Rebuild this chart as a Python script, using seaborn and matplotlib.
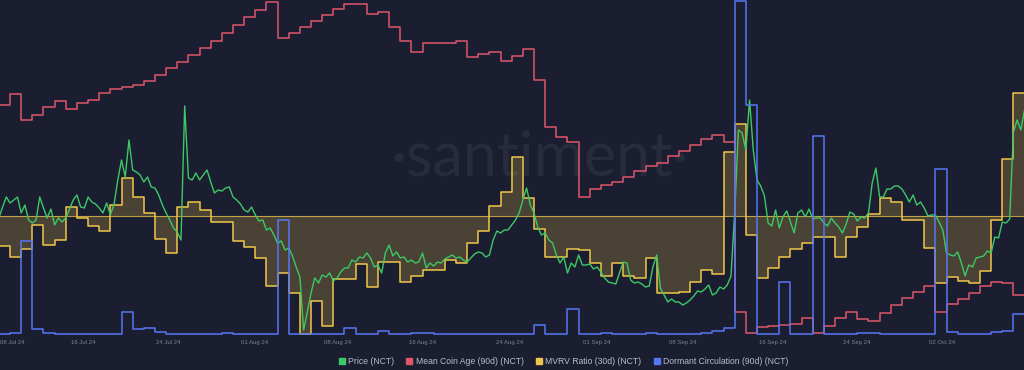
import numpy as np
import pandas as pd
import matplotlib
matplotlib.use("Agg")
import matplotlib.pyplot as plt
from matplotlib.lines import Line2D
import seaborn as sns

# --- Santiment NCT chart, 08 Jul 24 -> 06 Oct 24 ---
# daily metrics (one value per day)
mean_coin_age = [
    39.5, 40.6, 38.0, 38.5, 39.3, 39.9, 39.1, 39.7, 40.0, 40.7,
    41.1, 41.3, 41.5, 41.9, 42.5, 43.2, 43.8, 44.5, 45.2, 45.9,
    46.7, 47.5, 48.3, 49.0, 49.8, 46.2, 46.7, 47.3, 47.9, 48.5,
    49.1, 49.6, 49.6, 48.6, 48.8, 47.3, 45.9, 44.8, 45.7, 45.7,
    45.7, 45.9, 44.3, 44.6, 44.8, 43.9, 44.4, 45.1, 42.0, 37.3,
    36.3, 35.8, 30.3, 31.1, 31.5, 31.8, 32.3, 32.9, 33.4, 33.7,
    34.4, 34.9, 35.5, 36.1, 36.5, 35.8, 18.8, 16.7, 17.3, 17.4,
    17.5, 17.6, 18.2, 16.7, 17.4, 18.2, 18.8, 18.1, 17.9, 18.7,
    19.5, 20.2, 20.8, 21.4, 18.8, 19.6, 20.1, 20.7, 21.4, 21.8,
    21.7, 20.5,
]  # days

mvrv_30d = [
    -6.0, -8.2, -6.6, -1.8, -5.8, -4.8, 1.8, -0.4, -2.0, -3.0,
    2.2, 7.6, 3.8, 0.6, -4.6, -7.4, 1.8, 2.8, 1.2, -1.2,
    -1.2, -5.0, -6.2, -8.4, -14.0, -11.4, -15.4, -23.6, -17.0, -22.0,
    -12.6, -12.6, -9.6, -14.2, -9.2, -9.2, -13.2, -12.0, -10.8, -10.8,
    -8.8, -9.4, -5.4, -3.0, 2.0, 4.8, 11.8, 3.6, -2.6, -8.2,
    -8.2, -6.6, -6.8, -9.4, -12.0, -9.4, -12.0, -12.4, -8.4, -15.4,
    -15.4, -15.2, -13.2, -10.8, -11.6, 12.8, 18.4, -3.8, -12.4, -10.4,
    -8.2, -6.6, -5.4, -4.2, -4.2, -8.2, -4.2, -2.2, 0.4, 3.6,
    2.8, -0.8, -0.8, -6.4, -13.4, -12.2, -13.0, -13.4, -11.0, -0.8,
    11.4, 24.6,
]  # % (ratio - 1)

dormant_circ = [
    0, 1000, 93000, 5000, 1000, 0, 0, 0, 0, 0,
    0, 22000, 5000, 6000, 2000, 0, 0, 0, 0, 0,
    1000, 0, 0, 0, 0, 114000, 0, 0, 0, 0,
    0, 6000, 0, 0, 3000, 0, 0, 1000, 1000, 0,
    0, 0, 0, 0, 0, 0, 0, 0, 9000, 0,
    0, 25000, 0, 0, 1000, 0, 0, 0, 1000, 0,
    0, 0, 0, 1000, 3000, 6000, 333000, 229000, 0, 0,
    52000, 0, 0, 198000, 0, 0, 0, 1000, 1000, 0,
    0, 0, 0, 0, 165000, 2000, 0, 0, 0, 2000,
    3000, 20000,
]  # NCT

# price, one value every 8 hours
price_usd = [
    0.0182, 0.0193, 0.0203, 0.0197, 0.0200, 0.0203, 0.0187, 0.0195, 0.0180, 0.0177,
    0.0180, 0.0203, 0.0192, 0.0182, 0.0191, 0.0175, 0.0182, 0.0178, 0.0182, 0.0191,
    0.0200, 0.0205, 0.0193, 0.0192, 0.0203, 0.0198, 0.0196, 0.0192, 0.0187, 0.0197,
    0.0185, 0.0196, 0.0220, 0.0240, 0.0223, 0.0260, 0.0230, 0.0228, 0.0225, 0.0218,
    0.0223, 0.0213, 0.0212, 0.0205, 0.0195, 0.0187, 0.0180, 0.0172, 0.0168, 0.0160,
    0.0294, 0.0222, 0.0220, 0.0227, 0.0220, 0.0225, 0.0230, 0.0218, 0.0207, 0.0210,
    0.0209, 0.0212, 0.0213, 0.0203, 0.0200, 0.0196, 0.0190, 0.0188, 0.0193, 0.0185,
    0.0179, 0.0180, 0.0170, 0.0172, 0.0165, 0.0157, 0.0159, 0.0150, 0.0152, 0.0144,
    0.0133, 0.0123, 0.0070, 0.0088, 0.0107, 0.0122, 0.0117, 0.0125, 0.0123, 0.0127,
    0.0119, 0.0122, 0.0128, 0.0132, 0.0132, 0.0140, 0.0138, 0.0143, 0.0142, 0.0147,
    0.0142, 0.0133, 0.0135, 0.0127, 0.0147, 0.0155, 0.0144, 0.0148, 0.0142, 0.0143,
    0.0138, 0.0140, 0.0137, 0.0138, 0.0147, 0.0132, 0.0137, 0.0134, 0.0138, 0.0137,
    0.0141, 0.0143, 0.0145, 0.0142, 0.0143, 0.0140, 0.0138, 0.0142, 0.0146, 0.0148,
    0.0147, 0.0143, 0.0145, 0.0160, 0.0169, 0.0167, 0.0170, 0.0170, 0.0175, 0.0180,
    0.0187, 0.0200, 0.0212, 0.0195, 0.0187, 0.0173, 0.0165, 0.0167, 0.0160, 0.0157,
    0.0145, 0.0137, 0.0143, 0.0127, 0.0137, 0.0133, 0.0145, 0.0135, 0.0135, 0.0136,
    0.0131, 0.0133, 0.0128, 0.0122, 0.0118, 0.0117, 0.0116, 0.0127, 0.0138, 0.0137,
    0.0120, 0.0117, 0.0118, 0.0116, 0.0113, 0.0114, 0.0133, 0.0145, 0.0112, 0.0105,
    0.0098, 0.0101, 0.0098, 0.0098, 0.0095, 0.0097, 0.0100, 0.0104, 0.0109, 0.0108,
    0.0111, 0.0115, 0.0105, 0.0107, 0.0113, 0.0111, 0.0115, 0.0124, 0.0187, 0.0270,
    0.0267, 0.0250, 0.0300, 0.0250, 0.0220, 0.0214, 0.0204, 0.0177, 0.0174, 0.0190,
    0.0172, 0.0183, 0.0189, 0.0178, 0.0167, 0.0187, 0.0190, 0.0183, 0.0191, 0.0181,
    0.0182, 0.0182, 0.0177, 0.0174, 0.0182, 0.0177, 0.0173, 0.0167, 0.0176, 0.0188,
    0.0186, 0.0179, 0.0183, 0.0182, 0.0187, 0.0217, 0.0232, 0.0203, 0.0203, 0.0211,
    0.0211, 0.0214, 0.0214, 0.0211, 0.0205, 0.0198, 0.0205, 0.0195, 0.0198, 0.0192,
    0.0184, 0.0185, 0.0185, 0.0178, 0.0170, 0.0147, 0.0145, 0.0144, 0.0148, 0.0137,
    0.0124, 0.0135, 0.0133, 0.0142, 0.0143, 0.0144, 0.0149, 0.0147, 0.0163, 0.0162,
    0.0178, 0.0177, 0.0181, 0.0268, 0.0280, 0.0270, 0.0290,
]

tick_days = [1.2, 7.55, 15.17, 22.97, 30.42, 38.04, 45.84, 53.65, 61.36, 69.43, 76.96, 84.59]
tick_labels = ["08 Jul 24", "16 Jul 24", "24 Jul 24", "01 Aug 24", "08 Aug 24", "16 Aug 24",
               "24 Aug 24", "01 Sep 24", "08 Sep 24", "16 Sep 24", "24 Sep 24", "02 Oct 24"]

series_names = ["Price (NCT)", "Mean Coin Age (90d) (NCT)",
                "MVRV Ratio (30d) (NCT)", "Dormant Circulation (90d) (NCT)"]

BG = "#1b1e30"
GREEN = "#3cc965"
RED = "#e0576a"
YELLOW = "#f0c64a"
BLUE = "#5577f2"


def step_frame(values, name):
    # repeat the last value so the final day gets drawn as a full step
    vals = list(values) + [values[-1]]
    return pd.DataFrame({"day": np.arange(len(vals)), name: vals})


def main():
    plt.rcParams["font.family"] = ["Liberation Sans", "DejaVu Sans"]

    daily_mvrv = step_frame(mvrv_30d, "mvrv")
    daily_age = step_frame(mean_coin_age, "age")
    daily_dorm = step_frame(dormant_circ, "dorm")
    price = pd.DataFrame({"t": np.arange(len(price_usd)) / 3.0, "price": price_usd})

    fig = plt.figure(figsize=(10.24, 3.70), dpi=100, facecolor=BG)
    ax = fig.add_axes([0, 33 / 370, 1, 337 / 370])
    ax.set_facecolor(BG)

    # watermark
    ax.text(0.527, 0.53, "\u00b7santiment\u00b7", transform=ax.transAxes, ha="center", va="center",
            fontsize=44, color="white", alpha=0.06, family=["Lato", "DejaVu Sans"], zorder=0)

    # MVRV with filled area against zero
    ax.fill_between(daily_mvrv["day"], daily_mvrv["mvrv"], 0, step="post",
                    color=YELLOW, alpha=0.22, linewidth=0)
    ax.axhline(0, color=YELLOW, lw=0.8, alpha=0.75)
    sns.lineplot(data=daily_mvrv, x="day", y="mvrv", ax=ax, color=YELLOW, lw=1.1,
                 drawstyle="steps-post", errorbar=None)
    ax.set_ylim(-24.2, 43.2)

    ax_age = ax.twinx()
    sns.lineplot(data=daily_age, x="day", y="age", ax=ax_age, color=RED, lw=1.1,
                 drawstyle="steps-post", errorbar=None)
    ax_age.set_ylim(16.3, 50.0)

    ax_price = ax.twinx()
    sns.lineplot(data=price, x="t", y="price", ax=ax_price, color=GREEN, lw=1.0, errorbar=None)
    ax_price.set_ylim(0.0063, 0.0400)

    ax_dorm = ax.twinx()
    sns.lineplot(data=daily_dorm, x="day", y="dorm", ax=ax_dorm, color=BLUE, lw=1.1,
                 drawstyle="steps-post", errorbar=None)
    ax_dorm.set_ylim(-3000, 334000)

    for a in (ax, ax_age, ax_price, ax_dorm):
        a.set_xlim(0.1, 91.95)
        a.set_ylabel("")
        a.set_xlabel("")
        a.set_yticks([])
        for s in a.spines.values():
            s.set_visible(False)

    ax.set_xticks(tick_days, labels=tick_labels)
    ax.tick_params(axis="x", length=0, pad=2, labelsize=4.3, labelcolor="#7d8196")
    ax.grid(False)

    handles = [Line2D([], [], marker="s", ls="none", color=c, markersize=4.2)
               for c in (GREEN, RED, YELLOW, BLUE)]
    fig.legend(handles, series_names, loc="center", bbox_to_anchor=(0.5503, 0.022), ncol=4,
               frameon=False, fontsize=6.2, labelcolor="#b9bccb", handlelength=0.7,
               handletextpad=0.4, columnspacing=1.4, borderaxespad=0)

    fig.savefig("out.png", dpi=100, facecolor=BG)


if __name__ == "__main__":
    main()
